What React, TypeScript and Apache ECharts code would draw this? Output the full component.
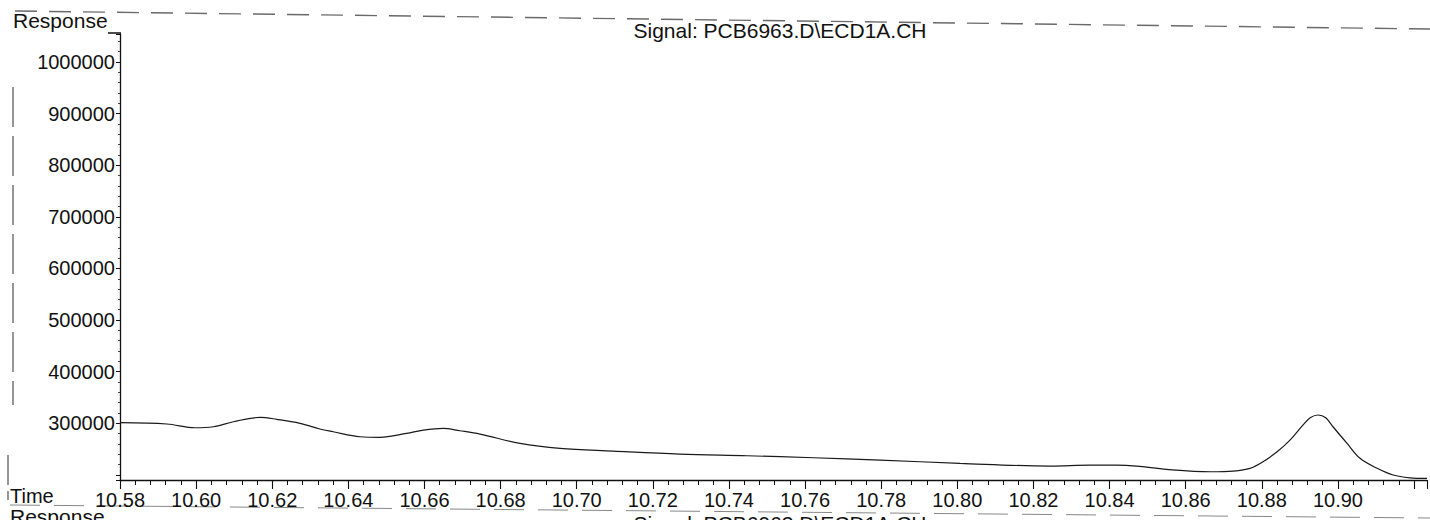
import React, { useEffect, useRef } from "react";
import * as echarts from "echarts";

const signalTitle = "Signal: PCB6963.D\\ECD1A.CH";
const yAxisName = "Response";
const xAxisName = "Time";

const times = [
  10.58, 10.5923, 10.5997, 10.6045, 10.6098, 10.6168, 10.6212, 10.6273, 10.6325, 10.636,
  10.6431, 10.6483, 10.6553, 10.6597, 10.6649, 10.6693, 10.6746, 10.6851, 10.6956, 10.7096,
  10.7271, 10.7447, 10.7622, 10.7797, 10.8007, 10.8244, 10.8349, 10.8419, 10.8471, 10.855,
  10.8664, 10.8725, 10.8769, 10.8803, 10.884, 10.8874, 10.8908, 10.8928, 10.8948, 10.8968,
  10.8987, 10.9024, 10.9058, 10.9103, 10.9145, 10.9189, 10.9234,
];

const responses = [
  301000, 298500, 291300, 293200, 302900, 311400, 307600, 299800, 288800, 283500,
  273800, 272600, 280400, 286800, 290100, 285500, 279000, 261000, 251300, 246100,
  240300, 237000, 233100, 228600, 222200, 217000, 218900, 218900, 217000, 210600,
  206000, 207300, 212500, 225300, 244700, 267400, 296500, 311000, 316000, 310500,
  293200, 261000, 232000, 212600, 199600, 194300, 193200,
];

const xMin = 10.58;
const xMax = 10.9234;
const xStep = 0.02;
const xLastLabel = 10.9;
const yMin = 190000;
const yMax = 1054300;
const yStep = 100000;
const yLabelFrom = 300000;
const yLabelTo = 1000000;

const FONT = "'Liberation Sans', Arial, sans-serif";

export default function App() {
  const ref = useRef<HTMLDivElement>(null);

  useEffect(() => {
    document.body.style.margin = "0";
    const chart = echarts.init(ref.current!, null, { renderer: "svg" });
    const dash = { stroke: "#6a6a6a", lineWidth: 1.4, lineDash: [22, 12] };
    chart.setOption({
      animation: false,
      backgroundColor: "#ffffff",
      grid: { left: 120, right: 3, top: 34, bottom: 40, containLabel: false },
      xAxis: {
        type: "value",
        min: xMin,
        max: xMax,
        interval: xStep,
        axisLine: { show: true, lineStyle: { color: "#111", width: 1.3 } },
        axisTick: { show: true, length: 9, lineStyle: { color: "#111", width: 1.1 } },
        minorTick: { show: true, splitNumber: 5, length: 5, lineStyle: { color: "#111", width: 1 } },
        splitLine: { show: false },
        minorSplitLine: { show: false },
        axisLabel: {
          margin: 10,
          fontSize: 20,
          color: "#111",
          fontFamily: FONT,
          formatter: (v: number) =>
            Math.abs(v / xStep - Math.round(v / xStep)) < 1e-6 && v <= xLastLabel + 1e-6
              ? v.toFixed(2)
              : "",
        },
      },
      yAxis: {
        type: "value",
        min: yMin,
        max: yMax,
        splitNumber: 9,
        minInterval: yStep,
        maxInterval: yStep,
        axisLine: { show: true, lineStyle: { color: "#111", width: 1.3 } },
        axisTick: { show: true, length: 4, lineStyle: { color: "#111", width: 1 } },
        minorTick: { show: true, splitNumber: 5, length: 2, lineStyle: { color: "#444", width: 1 } },
        splitLine: { show: false },
        minorSplitLine: { show: false },
        axisLabel: {
          margin: 5,
          fontSize: 20,
          color: "#111",
          fontFamily: FONT,
          formatter: (v: number) =>
            v >= yLabelFrom && v <= yLabelTo && v % yStep === 0 ? String(v) : "",
        },
      },
      series: [
        {
          type: "line",
          data: times.map((t, i) => [t, responses[i]]),
          showSymbol: false,
          smooth: 0.35,
          lineStyle: { color: "#1a1a1a", width: 1.2 },
        },
      ],
      graphic: [
        { type: "line", shape: { x1: 15, y1: 11, x2: 1430, y2: 29 }, style: dash, silent: true },
        { type: "line", shape: { x1: 13, y1: 87, x2: 13, y2: 405 }, style: { ...dash, lineDash: [40, 9] }, silent: true },
        { type: "line", shape: { x1: 8, y1: 455, x2: 8, y2: 500 }, style: { ...dash, lineDash: [30, 6] }, silent: true },
        { type: "line", shape: { x1: 10, y1: 505, x2: 1430, y2: 518 }, style: { stroke: "#888", lineWidth: 1, lineDash: [30, 14] }, silent: true },
        { type: "line", shape: { x1: 108, y1: 33, x2: 121, y2: 33 }, style: { stroke: "#111", lineWidth: 1.5 }, silent: true },
        {
          type: "text",
          left: 13,
          top: 10,
          style: { text: yAxisName, fontSize: 21, fill: "#111", fontFamily: FONT },
        },
        {
          type: "text",
          x: 780,
          y: 30,
          style: { text: signalTitle, fontSize: 21, fill: "#111", fontFamily: FONT, align: "center", verticalAlign: "middle" },
        },
        {
          type: "text",
          x: 10,
          y: 496,
          style: { text: xAxisName, fontSize: 20, fill: "#111", fontFamily: FONT, align: "left", verticalAlign: "middle" },
        },
        {
          type: "text",
          x: 10,
          y: 516,
          style: { text: yAxisName, fontSize: 21, fill: "#111", fontFamily: FONT, align: "left", verticalAlign: "middle" },
        },
        {
          type: "text",
          x: 780,
          y: 523,
          style: { text: signalTitle, fontSize: 21, fill: "#111", fontFamily: FONT, align: "center", verticalAlign: "middle" },
        },
      ],
    });
    return () => chart.dispose();
  }, []);

  return <div ref={ref} style={{ width: 1430, height: 520 }} />;
}
